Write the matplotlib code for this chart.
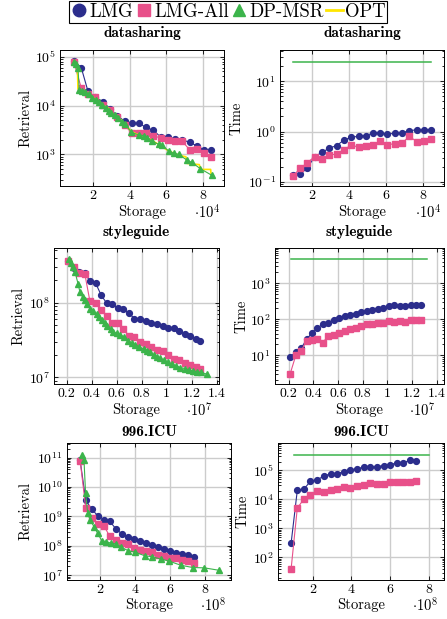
import math
import matplotlib
matplotlib.use("Agg")
import matplotlib.pyplot as plt
from matplotlib.lines import Line2D
from matplotlib.ticker import FixedLocator, FuncFormatter, LogLocator, NullFormatter

plt.rcParams['font.family'] = 'cmr10'
plt.rcParams['mathtext.fontset'] = 'cm'
plt.rcParams['axes.unicode_minus'] = False

# ---- datasharing (storage in 1e4) ----
ds_x = [0.95, 1.36, 1.73, 2.13, 2.53, 2.92, 3.32, 3.72, 4.12, 4.52,
        4.9, 5.3, 5.69, 6.08, 6.47, 6.87, 7.27, 7.67, 8.07, 8.46]
ds_lmg_ret = [83000, 60000, 19500, 15000, 12000, 8700, 6200, 4800, 4300, 4300,
              3550, 3100, 2270, 2270, 2050, 2000, 1750, 1500, 1230, 1200]
ds_lmgall_ret = [80000, 23000, 17000, 14800, 10200, 8300, 5700, 4000, 2700, 2750,
                 2750, 2350, 2200, 1950, 1850, 1850, 1250, 1270, 1050, 900]
ds_dp_x = [0.95, 1.07, 1.18, 1.25, 1.40, 1.58, 1.76, 1.95, 2.16, 2.35, 2.49,
           2.71, 2.85, 3.0, 3.18, 3.36, 3.58, 3.76, 4.09, 4.49, 4.76, 4.95,
           5.22, 5.58, 5.76, 6.13, 6.4, 6.67, 7.13, 7.4, 7.85, 8.49]
ds_dp_ret = [80000, 70000, 59000, 21000, 20000, 18700, 17000, 14600, 13100, 11800, 10300,
             9100, 7600, 6950, 6400, 5650, 4700, 4250, 2830, 2500, 2420, 2200,
             1870, 1600, 1540, 1170, 1050, 1000, 760, 680, 510, 370]
ds_opt_x = [0.95, 1.15, 1.18, 1.4, 1.76, 2.16, 2.49, 2.85, 2.88, 3.18, 3.58, 3.62,
            3.76, 4.09, 4.49, 4.95, 5.58, 6.13, 6.67, 7.07, 7.13, 7.8, 7.89, 8.42, 8.45]
ds_opt_ret = [80000, 62000, 22000, 20000, 17000, 13100, 10300, 8800, 7400, 6400, 4900, 4300,
              4250, 2900, 2500, 2200, 1600, 1170, 960, 890, 650, 615, 490, 490, 370]
ds_lmg_time = [0.14, 0.145, 0.188, 0.32, 0.386, 0.47, 0.525, 0.68, 0.77, 0.81,
               0.83, 0.94, 0.94, 0.90, 0.92, 0.94, 1.05, 1.08, 1.08, 1.1]
ds_lmgall_time = [0.13, 0.19, 0.24, 0.32, 0.28, 0.34, 0.36, 0.44, 0.54, 0.49,
                  0.51, 0.54, 0.64, 0.55, 0.575, 0.585, 0.81, 0.63, 0.64, 0.71]
ds_dp_time_x = [0.97, 8.46]
ds_dp_time = [24, 24]

# ---- styleguide (storage in 1e7) ----
sg_x = [0.213, 0.259, 0.301, 0.347, 0.387, 0.433, 0.476, 0.521, 0.567, 0.609,
        0.655, 0.7, 0.743, 0.789, 0.834, 0.877, 0.923, 0.968, 1.011, 1.057,
        1.102, 1.145, 1.19, 1.236, 1.27]
sg_lmg_ret = [3.6e8, 2.9e8, 2.6e8, 2.5e8, 1.92e8, 1.82e8, 1.27e8, 9.8e7, 9.6e7, 8.4e7,
              8.1e7, 7.2e7, 6.1e7, 5.95e7, 5.7e7, 5.4e7, 5.1e7, 4.8e7, 4.6e7, 4.5e7,
              4.2e7, 3.85e7, 3.55e7, 3.3e7, 3.06e7]
sg_lmgall_ret = [3.65e8, 3.03e8, 2.52e8, 2.39e8, 1.05e8, 9.9e7, 8.0e7, 6.7e7, 5.4e7, 5.4e7,
                 4.4e7, 3.6e7, 3.44e7, 2.94e7, 2.79e7, 2.52e7, 2.34e7, 2.22e7, 2.0e7, 1.75e7,
                 1.7e7, 1.55e7, 1.45e7, 1.38e7, 1.28e7]
sg_dp_x = [0.218, 0.235, 0.248, 0.267, 0.293, 0.307, 0.328, 0.347, 0.366, 0.387,
           0.414, 0.441, 0.462, 0.481, 0.508, 0.526, 0.553, 0.575, 0.601, 0.628,
           0.66, 0.695, 0.722, 0.749, 0.783, 0.816, 0.842, 0.869, 0.896, 0.923,
           0.949, 0.976, 1.011, 1.043, 1.078, 1.11, 1.145, 1.177, 1.212, 1.244,
           1.279, 1.324]
sg_dp_ret = [3.81e8, 3.36e8, 3.03e8, 2.6e8, 1.77e8, 1.39e8, 1.19e8, 1.08e8, 9.5e7, 8.3e7,
             7.7e7, 6.95e7, 6.4e7, 5.9e7, 5.3e7, 4.84e7, 4.46e7, 4.0e7, 3.9e7, 3.73e7,
             3.44e7, 3.1e7, 2.85e7, 2.74e7, 2.52e7, 2.39e7, 2.27e7, 2.15e7, 2.0e7, 1.88e7,
             1.81e7, 1.70e7, 1.58e7, 1.50e7, 1.42e7, 1.35e7, 1.31e7, 1.26e7, 1.22e7, 1.18e7,
             1.16e7, 1.1e7]
sg_lmg_time = [9.0, 12.4, 15.4, 28, 40.7, 56, 73, 81, 97, 108, 126, 134, 143, 156,
               173, 185, 198, 206, 230, 245, 240, 240, 245, 256, 256]
sg_lmgall_time = [3.05, 10, 13.2, 24.8, 26.5, 28.2, 22.2, 34.3, 36.6, 40.7, 48.4, 52.8,
                  58.9, 62.9, 73, 76, 78, 81, 91, 85, 91, 85, 97, 97, 97]
sg_dp_time_x = [0.218, 1.324]
sg_dp_time = [4740, 4740]

# ---- 996.ICU (storage in 1e8) ----
icu_x = [0.88, 1.2, 1.55, 1.88, 2.24, 2.57, 2.93, 3.25, 3.6, 3.95,
         4.29, 4.64, 4.99, 5.33, 5.67, 6.02, 6.35, 6.68, 7.02, 7.36]
icu_lmg_ret = [8.1e10, 3.57e9, 1.74e9, 1.08e9, 7.9e8, 6.9e8, 3.76e8, 2.6e8, 1.99e8, 1.7e8,
               1.49e8, 1.24e8, 1.08e8, 9.5e7, 7.9e7, 6.7e7, 5.9e7, 5.4e7, 4.9e7, 4.3e7]
icu_lmgall_ret = [8.0e10, 1.99e9, 9.0e8, 5.6e8, 4.9e8, 2.1e8, 1.53e8, 1.3e8, 1.17e8, 8.3e7,
                  7.5e7, 6.9e7, 6.05e7, 4.9e7, 4.5e7, 3.96e7, 3.76e7, 3.3e7, 3.04e7, 2.66e7]
icu_dp_x = [1.0, 1.10, 1.19, 1.31, 1.44, 1.69, 1.88, 2.12, 2.35, 2.63, 2.92, 3.23,
            3.62, 4.04, 4.58, 5.0, 5.48, 5.96, 6.63, 7.31, 7.98, 8.79]
icu_dp_ret = [1.2e11, 8.5e10, 6.5e9, 1.34e9, 7.9e8, 4.3e8, 2.7e8, 1.49e8, 1.41e8, 1.24e8,
              1.17e8, 9.0e7, 6.9e7, 6.05e7, 4.6e7, 4.3e7, 3.56e7, 3.04e7, 2.2e7, 1.84e7,
              1.79e7, 1.49e7]
icu_lmg_time = [312, 2.04e4, 2.27e4, 4.2e4, 4.8e4, 6.2e4, 7.7e4, 7.7e4, 8.8e4, 1.03e5,
                1.14e5, 1.27e5, 1.27e5, 1.34e5, 1.45e5, 1.57e5, 1.79e5, 1.79e5, 2.2e5, 2.04e5]
icu_lmgall_time = [40.6, 5.0e3, 1.03e4, 1.45e4, 1.89e4, 1.74e4, 2.04e4, 2.27e4, 2.66e4, 2.46e4,
                   2.96e4, 3.04e4, 3.66e4, 3.47e4, 3.47e4, 3.86e4, 3.86e4, 3.86e4, 3.96e4, 4.18e4]
icu_dp_time_x = [1.03, 8.0]
icu_dp_time = [3.3e5, 3.3e5]

BLUE = '#2b2d8c'
PINK = '#e8508a'
GREEN = '#3cb44b'
YELLOW = '#ffe600'

W, H = 447, 619
fig = plt.figure(figsize=(W / 100, H / 100), dpi=100)


def make_axes(l, r, t, b):
    ax = fig.add_axes([l / W, 1 - b / H, (r - l) / W, (b - t) / H])
    ax.set_yscale('log')
    ax.yaxis.set_major_locator(LogLocator(base=10, numticks=20))
    ax.yaxis.set_minor_locator(LogLocator(base=10, subs=range(2, 10), numticks=20))
    ax.yaxis.set_major_formatter(FuncFormatter(lambda v, p: r'$10^{%d}$' % round(math.log10(v))))
    ax.yaxis.set_minor_formatter(NullFormatter())
    ax.tick_params(which='both', direction='in', top=True, right=True, labelsize=10, width=0.6)
    ax.tick_params(which='major', length=3, pad=3)
    ax.tick_params(which='minor', length=1.8)
    ax.grid(True, which='major', color='#cccccc', lw=1.0)
    ax.set_axisbelow(True)
    for s in ax.spines.values():
        s.set_linewidth(0.7)
    return ax


def series(ax, x, y, color, marker, ms):
    ax.plot(x, y, color=color, lw=0.8, marker=marker, ms=ms, mec=color, mfc=color)


def decorate(ax, title, title_y, ylab, ylab_x, xlab_y, off_x, exp):
    l, b0, w, h = ax.get_position().bounds
    cx = l + w / 2
    fig.text(cx, 1 - title_y / H, title, ha='center', va='center', family='cmb10', fontsize=11)
    fig.text(cx, 1 - xlab_y / H, 'Storage', ha='center', va='center', fontsize=10.5)
    fig.text(ylab_x / W, b0 + h / 2, ylab, ha='center', va='center', rotation=90, fontsize=10.5)
    fig.text(off_x / W, 1 - xlab_y / H, r'$\cdot 10^{%d}$' % exp, ha='center', va='center', fontsize=10.5)


def dec_fmt(v, p):
    return ('%.1f' % v).rstrip('0').rstrip('.')


# row 1: datasharing
ax = make_axes(60, 224, 50, 186)
series(ax, ds_x, ds_lmg_ret, BLUE, 'o', 4.2)
series(ax, ds_x, ds_lmgall_ret, PINK, 's', 4)
ax.plot(ds_opt_x, ds_opt_ret, color=YELLOW, lw=1.2)
series(ax, ds_dp_x, ds_dp_ret, GREEN, '^', 4.4)
ax.set_xlim(0.2, 9.15)
ax.set_ylim(10 ** 2.35, 10 ** 5.14)
ax.xaxis.set_major_locator(FixedLocator([2, 4, 6, 8]))
decorate(ax, 'datasharing', 33, 'Retrieval', 26, 212, 207, 4)

ax = make_axes(280, 444, 50, 186)
series(ax, ds_x, ds_lmg_time, BLUE, 'o', 4.2)
series(ax, ds_x, ds_lmgall_time, PINK, 's', 4)
ax.plot(ds_dp_time_x, ds_dp_time, color=GREEN, lw=1.1)
ax.set_xlim(0.25, 9.15)
ax.set_ylim(10 ** -1.08, 10 ** 1.62)
ax.xaxis.set_major_locator(FixedLocator([2, 4, 6, 8]))
decorate(ax, 'datasharing', 33, 'Time', 237, 212, 428, 4)

# row 2: styleguide
ax = make_axes(54, 219, 248, 384)
series(ax, sg_x, sg_lmg_ret, BLUE, 'o', 4.2)
series(ax, sg_x, sg_lmgall_ret, PINK, 's', 4)
series(ax, sg_dp_x, sg_dp_ret, GREEN, '^', 4.4)
ax.set_xlim(0.1, 1.42)
ax.set_ylim(10 ** 6.91, 10 ** 8.73)
ax.xaxis.set_major_locator(FixedLocator([0.2, 0.4, 0.6, 0.8, 1.0, 1.2, 1.4]))
ax.xaxis.set_major_formatter(FuncFormatter(dec_fmt))
decorate(ax, 'styleguide', 232, 'Retrieval', 19, 410, 199, 7)

ax = make_axes(275, 444, 248, 384)
series(ax, sg_x, sg_lmg_time, BLUE, 'o', 4.2)
series(ax, sg_x, sg_lmgall_time, PINK, 's', 4)
ax.plot(sg_dp_time_x, sg_dp_time, color=GREEN, lw=1.1)
ax.set_xlim(0.09, 1.46)
ax.set_ylim(10 ** 0.2, 10 ** 3.98)
ax.xaxis.set_major_locator(FixedLocator([0.2, 0.4, 0.6, 0.8, 1.0, 1.2, 1.4]))
ax.xaxis.set_major_formatter(FuncFormatter(dec_fmt))
decorate(ax, 'styleguide', 232, 'Time', 242, 410, 422, 7)

# row 3: 996.ICU
ax = make_axes(67, 231, 443, 580)
series(ax, icu_x, icu_lmg_ret, BLUE, 'o', 4.2)
series(ax, icu_x, icu_lmgall_ret, PINK, 's', 4)
series(ax, icu_dp_x, icu_dp_ret, GREEN, '^', 4.4)
ax.set_xlim(0.13, 9.5)
ax.set_ylim(10 ** 6.84, 10 ** 11.5)
ax.xaxis.set_major_locator(FixedLocator([2, 4, 6, 8]))
decorate(ax, '996.ICU', 432, 'Retrieval', 26, 605, 213, 8)

ax = make_axes(278, 444, 443, 580)
series(ax, icu_x, icu_lmg_time, BLUE, 'o', 4.2)
series(ax, icu_x, icu_lmgall_time, PINK, 's', 4)
ax.plot(icu_dp_time_x, icu_dp_time, color=GREEN, lw=1.1)
ax.set_xlim(0.2, 8.8)
ax.set_ylim(10 ** 1.22, 10 ** 5.94)
ax.xaxis.set_major_locator(FixedLocator([2, 4, 6, 8]))
decorate(ax, '996.ICU', 432, 'Time', 243, 605, 425, 8)

handles = [
    Line2D([], [], color=BLUE, marker='o', ls='none', ms=9),
    Line2D([], [], color=PINK, marker='s', ls='none', ms=8.5),
    Line2D([], [], color=GREEN, marker='^', ls='none', ms=9),
    Line2D([], [], color=YELLOW, lw=2.0),
]
leg = fig.legend(handles, ['LMG', 'LMG-All', 'DP-MSR', 'OPT'], loc='upper center',
                 bbox_to_anchor=(228 / W, 0.999), ncol=4, frameon=True, fancybox=False,
                 edgecolor='black', framealpha=1, prop={'family': 'cmr10', 'size': 13.5},
                 handlelength=0.9, handletextpad=0.1, columnspacing=0.1, borderpad=0.12,
                 borderaxespad=0)
leg.get_frame().set_linewidth(0.8)

fig.savefig('out.png', dpi=100)
